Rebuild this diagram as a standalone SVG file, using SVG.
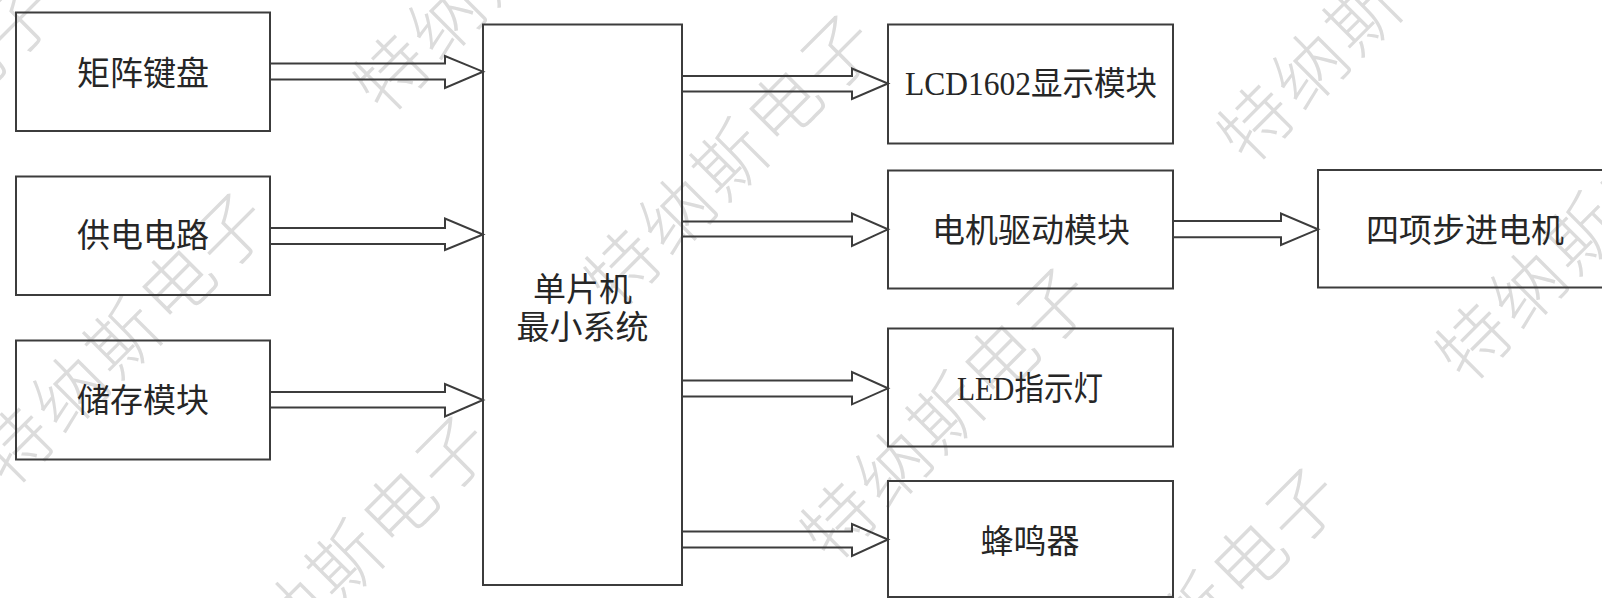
<svg xmlns="http://www.w3.org/2000/svg" width="1602" height="598" viewBox="0 0 1602 598">
<style>
.wm{font-family:"Noto Sans CJK SC",sans-serif;font-size:72px;font-weight:300;letter-spacing:4px;fill:#dcdcdc}
.box{fill:none;stroke:#3c3c3c;stroke-width:2}
.arr{fill:none;stroke:#3c3c3c;stroke-width:2;stroke-linejoin:miter}
.t{font-family:"Noto Sans CJK SC",sans-serif;font-size:33px;fill:#262626;text-anchor:middle}
.ts{font-family:"Liberation Serif","Noto Sans CJK SC",serif;font-size:33px;fill:#262626;text-anchor:middle}
</style>
<rect width="1602" height="598" fill="#ffffff"/>
<g id="watermark">
<text class="wm" transform="translate(-203,278) rotate(-45)">特纳斯电子</text>
<text class="wm" transform="translate(9,490) rotate(-45)">特纳斯电子</text>
<text class="wm" transform="translate(231,713) rotate(-45)">特纳斯电子</text>
<text class="wm" transform="translate(385,117) rotate(-45)">特纳斯电子</text>
<text class="wm" transform="translate(616,312) rotate(-45)">特纳斯电子</text>
<text class="wm" transform="translate(832,565) rotate(-45)">特纳斯电子</text>
<text class="wm" transform="translate(1081,765) rotate(-45)">特纳斯电子</text>
<text class="wm" transform="translate(1249,167) rotate(-45)">特纳斯电子</text>
<text class="wm" transform="translate(1467,386) rotate(-45)">特纳斯电子</text>
</g>
<g id="connectors">
<path class="arr" d="M270,63.5 H445 V56 L483,71.7 L445,88 V79.5 H270"/>
<path class="arr" d="M270,228 H445 V218.5 L483,234.5 L445,250 V244 H270"/>
<path class="arr" d="M270,392 H445 V384 L483,400 L445,416.5 V407.5 H270"/>
<path class="arr" d="M682,76 H852 V68.5 L888,83.5 L852,99 V91.5 H682"/>
<path class="arr" d="M682,221.5 H852 V213.5 L888,229.3 L852,246 V236.5 H682"/>
<path class="arr" d="M682,380.5 H852 V372 L888,388.3 L852,404.3 V396.5 H682"/>
<path class="arr" d="M682,531.5 H852 V524 L888,539.5 L852,556 V547.5 H682"/>
<path class="arr" d="M1173,221 H1281 V213.5 L1318,229.3 L1281,245 V237.3 H1173"/>
</g>
<g id="keypad"><rect class="box" x="16" y="12.5" width="254" height="118.5"/><text class="t" x="143" y="84.5">矩阵键盘</text></g>
<g id="power"><rect class="box" x="16" y="176.5" width="254" height="118.5"/><text class="t" x="143" y="246.5">供电电路</text></g>
<g id="storage"><rect class="box" x="16" y="340.5" width="254" height="119"/><text class="t" x="143" y="411.5">储存模块</text></g>
<g id="mcu"><rect class="box" x="483" y="24.5" width="199" height="560.5"/><text class="t" x="582.5" y="300.5">单片机</text><text class="t" x="582.5" y="338.5">最小系统</text></g>
<g id="lcd"><rect class="box" x="888" y="24.5" width="285" height="119"/><text class="ts" x="1031" y="95" textLength="252" lengthAdjust="spacingAndGlyphs">LCD1602显示模块</text></g>
<g id="driver"><rect class="box" x="888" y="170.5" width="285" height="118"/><text class="t" x="1031" y="241.5">电机驱动模块</text></g>
<g id="led"><rect class="box" x="888" y="328.5" width="285" height="118"/><text class="ts" x="1030" y="400" textLength="146" lengthAdjust="spacingAndGlyphs">LED指示灯</text></g>
<g id="buzzer"><rect class="box" x="888" y="481" width="285" height="116"/><text class="t" x="1030" y="552.5">蜂鸣器</text></g>
<g id="stepper"><rect class="box" x="1318" y="170" width="300" height="117.5"/><text class="t" x="1465" y="241.5">四项步进电机</text></g>
</svg>
